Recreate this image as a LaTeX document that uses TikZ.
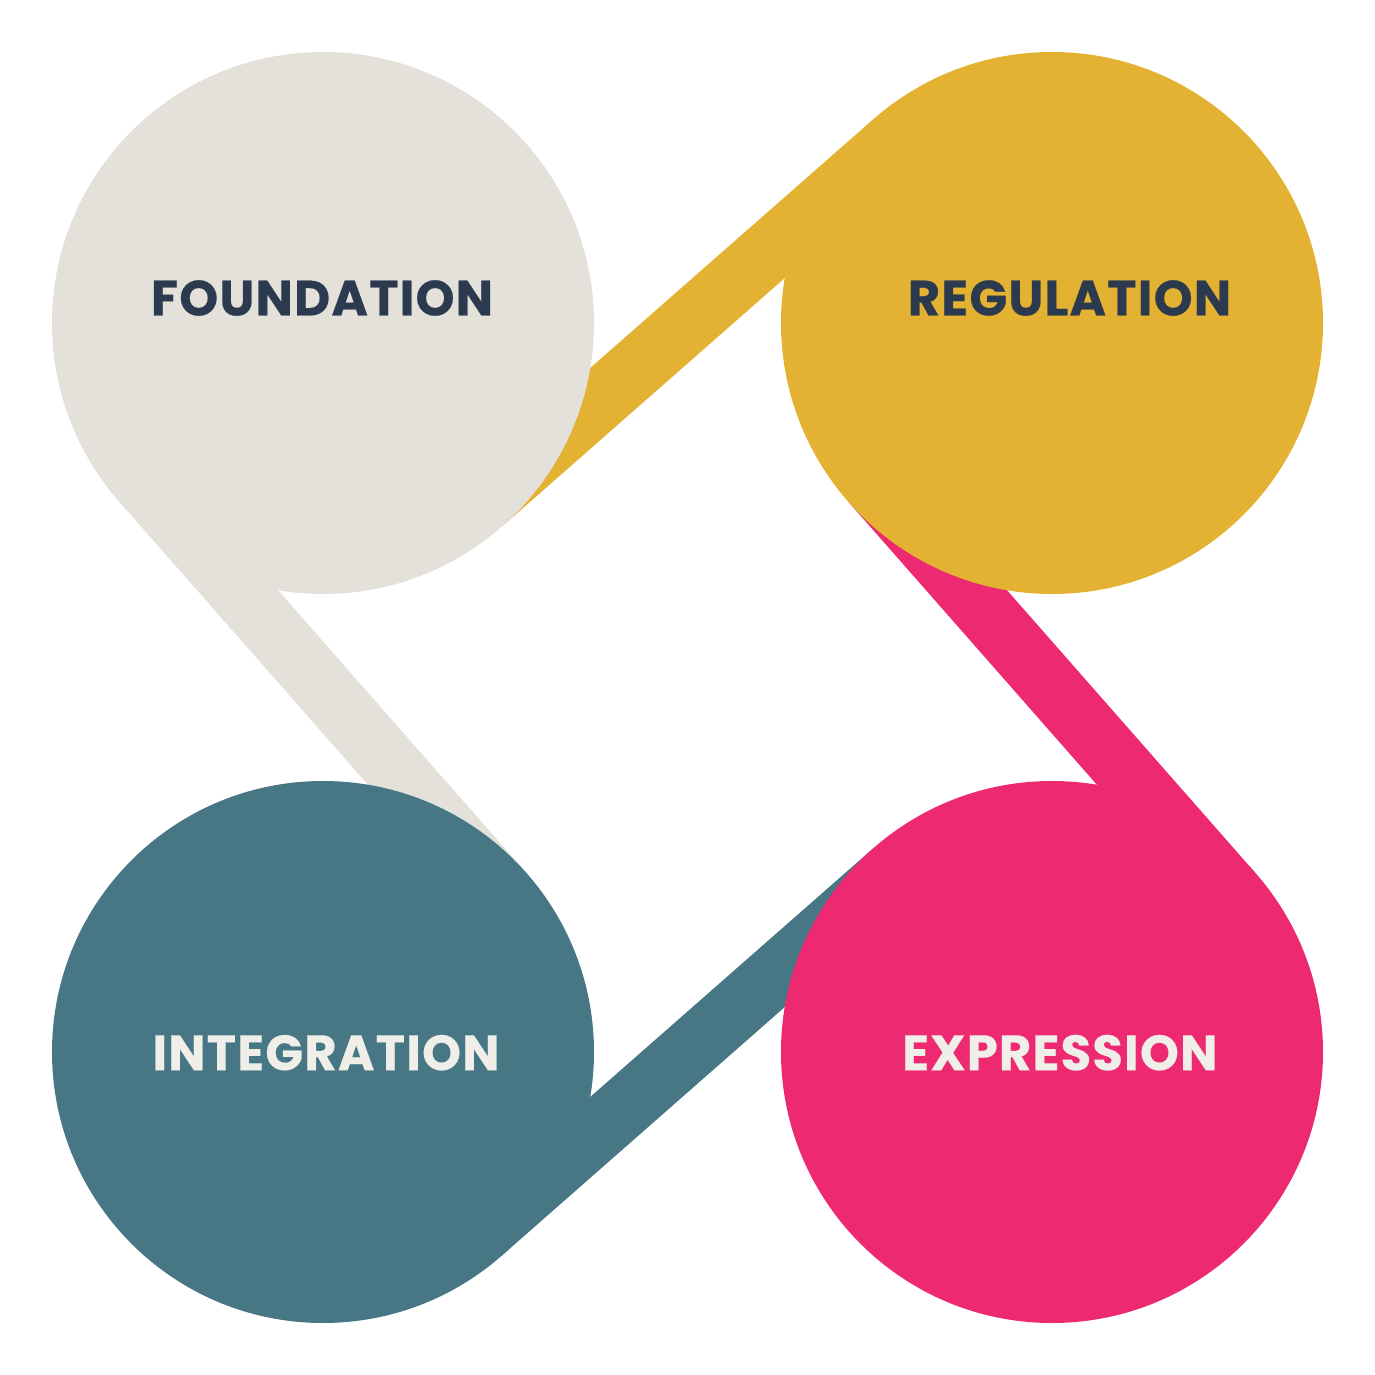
\documentclass[tikz,border=0pt]{standalone}
\usepackage{fontspec}
\setmainfont{Poppins}[LetterSpace=2.5, BoldFeatures={FakeBold=0.4}]
\usepackage{tikz}
\usetikzlibrary{calc,backgrounds}
\definecolor{foundGray}{RGB}{228,225,219}
\definecolor{regulGold}{RGB}{227,178,50}
\definecolor{integTeal}{RGB}{71,119,132}
\definecolor{exprPink}{RGB}{237,41,113}
\definecolor{labelNavy}{RGB}{44,58,79}
\definecolor{labelCream}{RGB}{240,238,233}
\tikzset{
  bubble/.style={circle, inner sep=0pt, minimum size=54.2mm},
  tag/.style={font=\fontsize{14.1pt}{17pt}\selectfont\bfseries, inner sep=0pt},
}

\begin{document}
\begin{tikzpicture}[x=0.1mm, y=0.1mm]
\useasboundingbox (-687.5,-687.5) rectangle (687.5,687.5);

% circles
\node[bubble, fill=foundGray] (foundation) at (-364.5,364.5) {};
\node[bubble, fill=regulGold] (regulation) at (364.5,364.5) {};
\node[bubble, fill=integTeal] (integration) at (-364.5,-364.5) {};
\node[bubble, fill=exprPink] (expression) at (364.5,-364.5) {};

% bands, tucked under the next circle
\begin{pgfonlayer}{background}
\foreach \src/\ang/\col in {foundation/221.3/foundGray, integration/311.3/integTeal,
    expression/41.3/exprPink, regulation/131.3/regulGold}{
  \fill[\col] (\src.center) ++(\ang:271) -- ++({\ang+90}:547.7)
    -- ++({\ang+180}:60.85) -- ++({\ang+270}:547.7) -- cycle;
}
\end{pgfonlayer}

% labels
\node[tag, text=labelNavy] (foundation-lbl) at ($(foundation)+(-1,25)$) {FOUNDATION};
\node[tag, text=labelNavy] (regulation-lbl) at ($(regulation)+(17.5,25)$) {REGULATION};
\node[tag, text=labelCream] (integration-lbl) at ($(integration)+(3,-0.7)$) {INTEGRATION};
\node[tag, text=labelCream] (expression-lbl) at ($(expression)+(7.8,-0.7)$) {EXPRESSION};
\end{tikzpicture}
\end{document}
